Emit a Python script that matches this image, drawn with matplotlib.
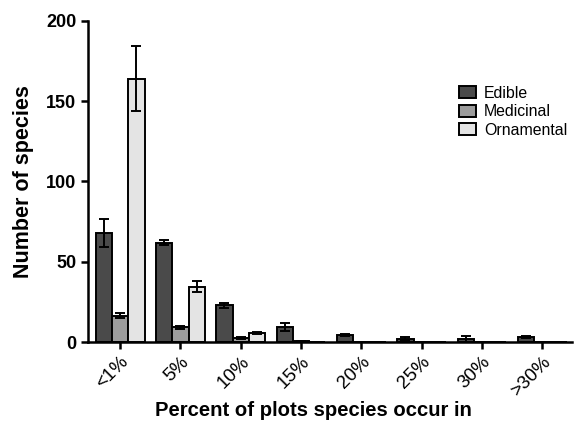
import numpy as np
import matplotlib.pyplot as plt

plt.rcParams['font.family'] = ['Liberation Sans', 'DejaVu Sans']

categories = ['<1%', '5%', '10%', '15%', '20%', '25%', '30%', '>30%']
edible = [68, 62, 23, 9.3, 4.6, 2.3, 2.2, 3.5]
edible_err = [8.5, 1.8, 1.4, 2.5, 0.5, 1.0, 2.0, 0.6]
medicinal = [16.5, 9.2, 2.5, 0.8, 0, 0, 0, 0]
medicinal_err = [1.6, 1.0, 0.5, 0.2, 0, 0, 0, 0]
ornamental = [164, 34.5, 5.6, 0, 0, 0, 0, 0]
ornamental_err = [20, 3.4, 0.6, 0, 0, 0, 0, 0]

series = [('Edible', edible, edible_err, '#4a4a4a'),
          ('Medicinal', medicinal, medicinal_err, '#9c9c9c'),
          ('Ornamental', ornamental, ornamental_err, '#e4e4e4')]

fig = plt.figure(figsize=(5.8, 4.21), dpi=100)
ax = fig.add_axes([0.152, 0.187, 0.835, 0.764])

x = np.arange(len(categories))
w = 0.27
for i, (name, vals, errs, col) in enumerate(series):
    pos = x + (i - 1) * w
    ax.bar(pos, vals, w, color=col, edgecolor='black', linewidth=1.4, label=name, zorder=2)
    vals = np.array(vals)
    errs = np.array(errs)
    m = vals > 0
    ax.errorbar(pos[m], vals[m], yerr=errs[m], fmt='none', ecolor='black',
                elinewidth=1.4, capsize=3.6, capthick=1.4, zorder=3)

ax.set_xlim(-0.53, 7.5)
ax.set_ylim(0, 200)
ax.set_yticks([0, 50, 100, 150, 200])
ax.set_xticks(x)
ax.set_xticklabels(categories, rotation=45, ha='right', rotation_mode='anchor', fontsize=13.5)
for lbl in ax.get_yticklabels():
    lbl.set_fontweight('bold')
    lbl.set_fontsize(13)

for s in ['top', 'right']:
    ax.spines[s].set_visible(False)
for s in ['left', 'bottom']:
    ax.spines[s].set_linewidth(1.8)
ax.tick_params(axis='both', width=1.8, length=5)
ax.tick_params(axis='x', pad=3)

ax.set_ylabel('Number of species', fontsize=15.5, fontweight='bold')
ax.yaxis.set_label_coords(-0.112, 0.5)
ax.set_xlabel('Percent of plots species occur in', fontsize=14.6, fontweight='bold')
ax.xaxis.set_label_coords(0.465, -0.183)

ax.legend(loc='upper left', bbox_to_anchor=(0.766, 0.83), bbox_transform=fig.transFigure,
          frameon=False, fontsize=11.4, handlelength=1.12, handleheight=0.8,
          handletextpad=0.5, labelspacing=0.22)

fig.savefig('out.png', dpi=100)
